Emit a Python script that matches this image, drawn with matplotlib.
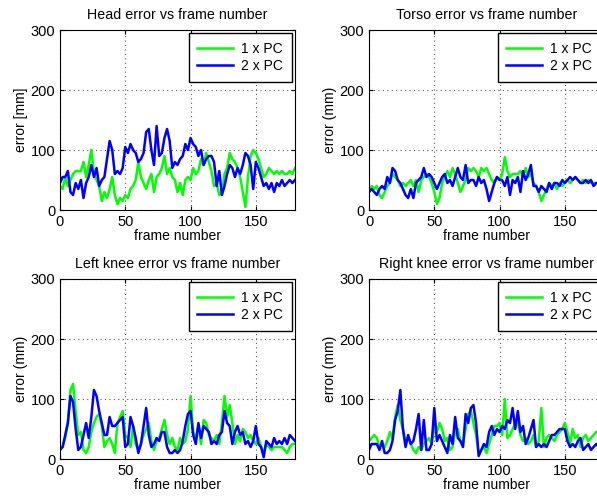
import matplotlib.pyplot as plt
import numpy as np

plt.rcParams['font.family'] = ['Liberation Sans', 'DejaVu Sans']

# error values read every 2 frames (frame 0..180)
head_1pc = [40, 35, 55, 40, 50, 60, 65, 65, 65, 80, 55, 75, 100, 60, 50, 40, 15, 30, 20, 35,
            55, 25, 10, 20, 15, 25, 20, 35, 40, 50, 80, 55, 45, 35, 50, 60, 30, 55, 60, 70,
            90, 60, 70, 55, 50, 30, 45, 25, 50, 55, 50, 70, 60, 65, 85, 75, 95, 80, 65, 40,
            45, 25, 30, 60, 70, 95, 85, 80, 70, 55, 30, 5, 55, 90, 100, 95, 85, 70, 55, 60,
            70, 65, 60, 65, 60, 65, 60, 60, 65, 60, 70]
head_2pc = [45, 55, 55, 65, 30, 25, 45, 35, 50, 20, 45, 55, 75, 55, 70, 40, 50, 55, 85, 115,
            100, 60, 65, 60, 70, 105, 95, 110, 100, 95, 80, 85, 95, 130, 135, 100, 75, 140, 90, 95,
            120, 135, 115, 70, 80, 75, 85, 90, 110, 100, 120, 110, 105, 90, 100, 75, 85, 90, 90, 80,
            40, 65, 25, 40, 60, 75, 70, 55, 70, 60, 75, 95, 90, 75, 35, 80, 70, 55, 40, 45,
            35, 45, 30, 45, 40, 50, 40, 45, 50, 45, 50]

torso_1pc = [30, 40, 35, 40, 25, 20, 30, 40, 45, 60, 55, 50, 40, 45, 40, 45, 50, 40, 50, 30,
             50, 55, 60, 55, 45, 30, 10, 20, 45, 55, 65, 55, 70, 60, 45, 30, 40, 50, 70, 65,
             70, 65, 55, 70, 65, 70, 60, 50, 45, 55, 50, 60, 88, 65, 55, 60, 60, 60, 65, 55,
             70, 55, 60, 45, 40, 30, 15, 25, 35, 45, 40, 45, 35, 45, 40, 45, 50, 45, 50, 55,
             50, 45, 50, 45, 50, 45, 45, 45, 45, 45, 45]
torso_2pc = [30, 35, 30, 25, 35, 40, 35, 55, 45, 70, 65, 50, 45, 35, 25, 20, 35, 20, 45, 50,
             55, 70, 55, 60, 55, 45, 35, 45, 55, 60, 45, 50, 40, 55, 70, 55, 50, 75, 45, 50,
             50, 40, 55, 45, 50, 35, 15, 30, 45, 55, 50, 50, 40, 55, 25, 50, 45, 55, 30, 65,
             50, 60, 75, 40, 40, 30, 40, 35, 30, 45, 35, 45, 45, 40, 50, 45, 50, 55, 50, 55,
             50, 45, 45, 50, 45, 50, 40, 45, 45, 45, 45]

lknee_1pc = [20, 20, 35, 60, 115, 125, 80, 40, 45, 15, 10, 20, 45, 60, 70, 75, 55, 20, 30, 35,
             25, 10, 60, 70, 80, 40, 35, 20, 55, 25, 15, 25, 40, 50, 60, 30, 15, 30, 35, 50,
             65, 40, 25, 35, 20, 15, 35, 25, 30, 50, 105, 45, 35, 55, 25, 65, 60, 40, 35, 30,
             40, 25, 60, 105, 70, 90, 60, 25, 40, 30, 50, 45, 35, 40, 30, 25, 35, 20, 10, 25,
             20, 15, 20, 20, 20, 20, 15, 10, 20, 25, 25]
lknee_2pc = [15, 20, 40, 60, 105, 95, 50, 15, 20, 40, 60, 35, 70, 115, 105, 80, 60, 40, 40, 70,
             55, 55, 60, 65, 70, 20, 25, 70, 55, 35, 10, 25, 55, 85, 40, 20, 25, 35, 30, 45,
             45, 20, 10, 10, 15, 10, 15, 30, 55, 75, 80, 40, 25, 60, 35, 55, 50, 45, 25, 30,
             25, 40, 45, 80, 60, 55, 25, 45, 55, 40, 45, 25, 30, 20, 30, 55, 25, 20, 3, 30,
             25, 20, 35, 25, 30, 25, 35, 25, 40, 35, 30]

rknee_1pc = [30, 35, 40, 35, 20, 25, 20, 30, 45, 35, 70, 90, 65, 50, 30, 35, 25, 15, 10, 20,
             15, 25, 30, 35, 25, 55, 45, 60, 50, 30, 35, 15, 20, 45, 50, 30, 25, 50, 75, 80,
             60, 40, 10, 15, 20, 10, 25, 40, 55, 55, 60, 40, 100, 35, 40, 50, 60, 60, 40, 30,
             35, 25, 30, 40, 20, 30, 85, 20, 35, 40, 35, 30, 40, 45, 50, 60, 45, 25, 50, 35,
             40, 20, 35, 40, 30, 35, 40, 45, 45, 40, 40]
rknee_2pc = [15, 25, 25, 25, 15, 30, 10, 10, 15, 30, 65, 80, 115, 50, 20, 40, 25, 30, 50, 75,
             15, 65, 15, 15, 25, 85, 30, 40, 30, 20, 10, 40, 25, 70, 35, 30, 20, 75, 60, 85,
             90, 60, 5, 15, 25, 20, 45, 55, 40, 50, 45, 55, 50, 65, 60, 85, 50, 80, 45, 55,
             25, 35, 50, 65, 20, 25, 20, 25, 20, 30, 40, 40, 45, 50, 50, 50, 30, 20, 25, 20,
             30, 35, 15, 20, 25, 15, 20, 25, 20, 20, 20]

titles = ['Head error vs frame number', 'Torso error vs frame number',
          'Left knee error vs frame number', 'Right knee error vs frame number']
ylabels = ['error [mm]', 'error (mm)', 'error (mm)', 'error (mm)']
series = [(head_1pc, head_2pc), (torso_1pc, torso_2pc),
          (lknee_1pc, lknee_2pc), (rknee_1pc, rknee_2pc)]

W, H = 597, 498
fig = plt.figure(figsize=(W / 100, H / 100), dpi=100)

# axes boxes in pixels (left, top), all 235 x 180
boxes = [(60, 30), (369, 30), (60, 279), (369, 279)]

for (px, py), title, ylab, (s1, s2) in zip(boxes, titles, ylabels, series):
    ax = fig.add_axes([px / W, 1 - (py + 180) / H, 235 / W, 180 / H])
    x1 = np.arange(len(s1)) * 2
    x2 = np.arange(len(s2)) * 2
    ax.plot(x1, s1, color=(0, 1, 0), lw=1.8, label='1 x PC')
    ax.plot(x2, s2, color=(0, 0, 1), lw=1.8, label='2 x PC')
    ax.set_xlim(0, 180)
    ax.set_ylim(0, 300)
    ax.set_xticks([0, 50, 100, 150])
    ax.set_yticks([0, 100, 200, 300])
    ax.grid(True, color='#555555', linestyle=(0, (1, 3)), linewidth=0.8)
    ax.tick_params(direction='in', top=True, right=True, labelsize=10.5, length=3)
    ax.set_title(title, fontsize=10.3, pad=8)
    ax.set_xlabel('frame number', fontsize=10, labelpad=0)
    ax.set_ylabel(ylab, fontsize=10, labelpad=2)
    leg = ax.legend(loc='upper right', fontsize=10, fancybox=False, framealpha=1,
                    edgecolor='black', handlelength=2.6, borderaxespad=0.25,
                    borderpad=0.6, handletextpad=0.6, labelspacing=0.25)
    leg.get_frame().set_linewidth(1.0)

fig.savefig('out.png', dpi=100)
